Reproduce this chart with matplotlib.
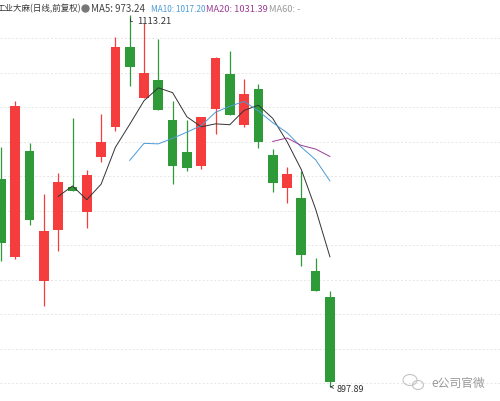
import numpy as np
import matplotlib.pyplot as plt
from matplotlib.lines import Line2D
from matplotlib.patches import Ellipse

plt.rcParams['font.family'] = ['Noto Sans CJK SC', 'DejaVu Sans']

# daily OHLC (red = up, green = down)
opens = [1018.3, 973.1, 1034.6, 959.2, 988.7, 1013.7, 999.2, 1031.1, 1048.5, 1094.9,
         1065.3, 1075.7, 1052.5, 1034.0, 1025.9, 1058.9, 1079.2, 1049.6, 1070.5, 1032.2,
         1013.1, 1007.3, 965.0, 949.9]
highs = [1036.9, 1063.6, 1039.2, 1009.6, 1021.8, 1053.7, 1023.5, 1056.0, 1100.7, 1113.21,
         1109.0, 1099.5, 1063.6, 1052.5, 1054.3, 1089.1, 1092.6, 1076.3, 1073.4, 1035.7,
         1025.3, 1023.0, 972.5, 953.4]
lows = [970.8, 971.9, 991.6, 944.7, 976.6, 1011.4, 989.9, 1028.2, 1046.2, 1072.3,
        1065.3, 1058.3, 1015.4, 1023.0, 1024.1, 1044.4, 1055.4, 1048.5, 1036.3, 1010.8,
        1004.4, 967.9, 953.4, 897.89]
closes = [981.2, 1060.7, 994.5, 988.2, 1016.6, 1011.4, 1020.6, 1039.8, 1094.9, 1083.3,
          1079.8, 1058.3, 1025.9, 1024.7, 1054.3, 1088.5, 1055.4, 1067.6, 1039.8, 1016.0,
          1021.2, 974.2, 953.4, 900.6]

# moving averages as drawn (MA5 from day 5, MA10 from day 10, MA20 from day 20)
ma5 = [1008.2, 1014.3, 1006.3, 1015.3, 1036.7, 1050.0, 1063.7, 1071.2, 1068.4, 1054.4,
       1048.6, 1050.3, 1049.8, 1058.1, 1061.1, 1053.5, 1040.0, 1023.8, 1000.9, 973.24]
ma10 = [1029.1, 1039.0, 1038.7, 1041.9, 1045.5, 1049.3, 1057.0, 1060.5, 1063.3, 1057.8,
        1051.0, 1045.2, 1036.8, 1029.5, 1017.20]
ma20 = [1040.1, 1042.1, 1037.8, 1035.7, 1031.39]

grid_levels = [900, 920, 940, 960, 980, 1000, 1020, 1040, 1060, 1080, 1100]

RED = '#f53d3d'
GREEN = '#2f9a38'

W, H = 500, 402
fig = plt.figure(figsize=(5, 4.02), dpi=100)
ax = fig.add_axes([0, 0, 1, 1])
step = 14.3
ax.set_xlim(-1 / step, (W - 1) / step)
ax.set_ylim(900 - 18 * 0.58, 900 + 384 * 0.58)
ax.axis('off')

for g in grid_levels:
    ax.axhline(g, color='#e6e6e6', lw=0.7, ls=(0, (2, 2)), zorder=0)

x = np.arange(len(opens))
for i in x:
    o, h, l, c = opens[i], highs[i], lows[i], closes[i]
    col = RED if c >= o else GREEN
    ax.vlines(i, l, h, color=col, lw=0.9, zorder=2)
    ax.bar(i, abs(c - o) if abs(c - o) > 0.5 else 0.8, bottom=min(o, c),
           width=0.68, color=col, zorder=3, linewidth=0)

ax.plot(x[4:4 + len(ma5)], ma5, color='#333333', lw=0.7, zorder=4)
ax.plot(x[9:9 + len(ma10)], ma10, color='#4b9bd6', lw=0.7, zorder=4)
ax.plot(x[19:19 + len(ma20)], ma20, color='#9c3b93', lw=0.7, zorder=4)

# high / low markers
ax.annotate('1113.21', xy=(9, 1113.21), xytext=(9.55, 1110.2), fontsize=6.8,
            color='#333333', va='center', ha='left',
            arrowprops=dict(arrowstyle='-', color='#333333', lw=0.6,
                            connectionstyle='angle,angleA=0,angleB=90,rad=0'))
ax.annotate('897.89', xy=(23, 897.89), xytext=(23.45, 896.9), fontsize=6.5,
            color='#333333', va='center', ha='left',
            arrowprops=dict(arrowstyle='->', color='#333333', lw=0.6, mutation_scale=5))

# header
ty = 1 - 9 / H
fig.text(-3 / W, ty, '工业大麻(日线,前复权)', fontsize=6.1, color='#333333', va='center')
fig.add_artist(Line2D([85 / W], [ty], marker='o', ms=5, color='#777777',
                      transform=fig.transFigure))
fig.text(91 / W, ty, 'MA5: 973.24', fontsize=7.0, color='#444444', va='center')
fig.text(151 / W, ty, 'MA10: 1017.20', fontsize=5.9, color='#4b9bd6', va='center')
fig.text(206 / W, ty, 'MA20: 1031.39', fontsize=6.7, color='#9c3b93', va='center')
fig.text(269 / W, ty, 'MA60: -', fontsize=6.7, color='#999999', va='center')

# watermark
fig.text(485 / W, 1 - 383 / H, 'e公司官微', fontsize=8.5, color='#9a9a9a',
         va='center', ha='right')
fig.add_artist(Ellipse((410 / W, 1 - 381 / H), 14 / W, 11 / H, fill=False,
                       ec='#c4c4c4', lw=0.8, transform=fig.transFigure))
fig.add_artist(Ellipse((418 / W, 1 - 386 / H), 11 / W, 9 / H, fill=False,
                       ec='#c4c4c4', lw=0.8, transform=fig.transFigure))

fig.savefig('out.png', dpi=100, facecolor='white')
